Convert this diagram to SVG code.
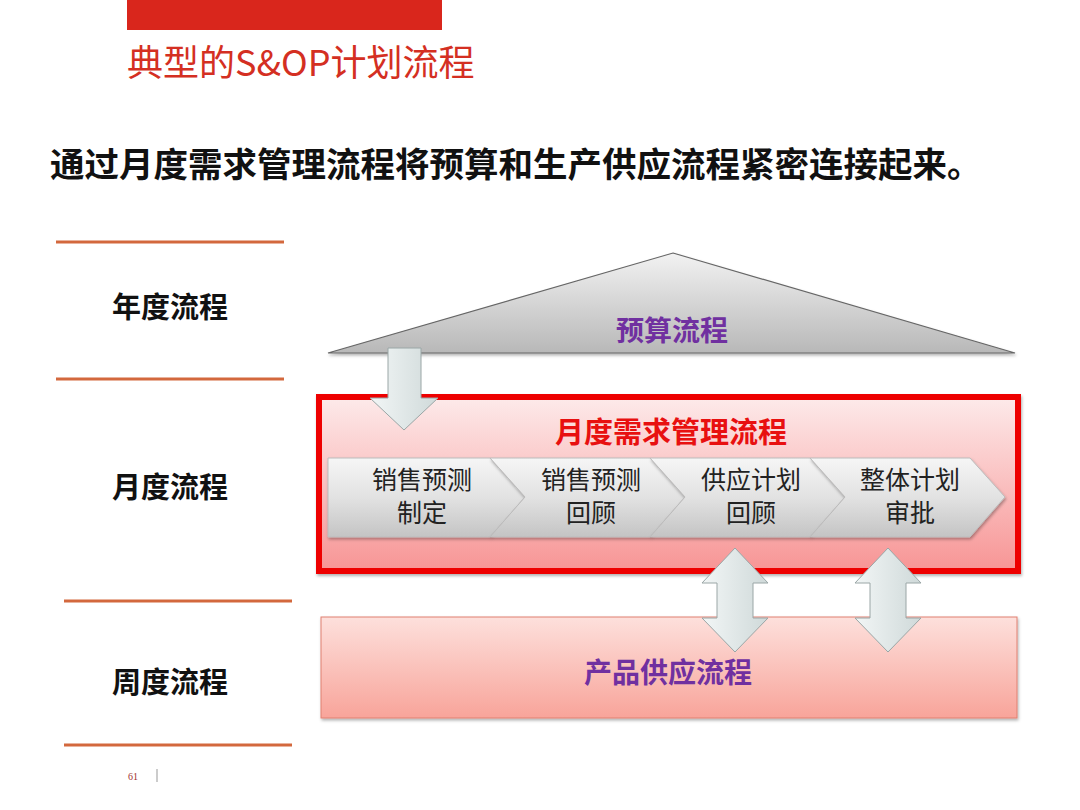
<svg xmlns="http://www.w3.org/2000/svg" width="1080" height="810" viewBox="0 0 1080 810">
<defs>
<linearGradient id="gTri" x1="0" y1="0" x2="0" y2="1"><stop offset="0" stop-color="#f2f2f2"/><stop offset="1" stop-color="#b8b8b8"/></linearGradient>
<linearGradient id="gChev" x1="0" y1="0" x2="0" y2="1"><stop offset="0" stop-color="#f6f6f6"/><stop offset="0.5" stop-color="#e2e2e2"/><stop offset="1" stop-color="#c4c4c4"/></linearGradient>
<linearGradient id="gArr" x1="0" y1="0" x2="1" y2="0"><stop offset="0" stop-color="#f2f6f6"/><stop offset="1" stop-color="#cfd9d9"/></linearGradient>
<linearGradient id="gMonth" x1="0" y1="0" x2="0" y2="1"><stop offset="0" stop-color="#fdeaea"/><stop offset="1" stop-color="#f79595"/></linearGradient>
<linearGradient id="gWeek" x1="0" y1="0" x2="0" y2="1"><stop offset="0" stop-color="#fde0dc"/><stop offset="1" stop-color="#f8a49a"/></linearGradient>
<filter id="sh" x="-5%" y="-10%" width="110%" height="130%"><feDropShadow dx="1" dy="2" stdDeviation="1.5" flood-color="#000" flood-opacity="0.3"/></filter>
</defs>
<style>
.cjk{font-family:"Noto Sans CJK SC","Noto Sans",sans-serif}
.b{font-weight:bold}
.lbl{font-size:29px;fill:#111;text-anchor:middle}
.sep{stroke:#d3683d;stroke-width:3}
.chev{fill:url(#gChev);stroke:#bcbcbc;stroke-width:1}
.ctxt{font-size:25px;fill:#222;text-anchor:middle}
.arr{fill:url(#gArr);stroke:#9aa6a6;stroke-width:1}
.purple{fill:#7030a0;text-anchor:middle;font-size:28px}
</style>
<rect x="127" y="0" width="315" height="30" fill="#d9261c"/>
<text x="127" y="76" class="cjk" font-size="36" fill="#d42f22">典型的S&amp;OP计划流程</text>
<text x="50" y="177" class="cjk b" font-size="34.5" fill="#111">通过月度需求管理流程将预算和生产供应流程紧密连接起来。</text>
<g id="separators">
<line class="sep" x1="56" y1="242" x2="284" y2="242"/>
<line class="sep" x1="56" y1="379" x2="284" y2="379"/>
<line class="sep" x1="64" y1="601" x2="292" y2="601"/>
<line class="sep" x1="64" y1="745" x2="292" y2="745"/>
</g>
<g id="label-year"><text x="170" y="318" class="cjk b lbl">年度流程</text></g>
<g id="label-month"><text x="170" y="498" class="cjk b lbl">月度流程</text></g>
<g id="label-week"><text x="170" y="693" class="cjk b lbl">周度流程</text></g>
<g id="budget">
<polygon points="673,253 1015,353 328,353" fill="url(#gTri)" stroke="#666" stroke-width="1.2" filter="url(#sh)"/>
<text x="672" y="341" class="cjk b purple" font-size="27">预算流程</text>
</g>
<g id="weekly">
<rect x="321" y="617" width="696" height="101" fill="url(#gWeek)" stroke="#e08070" stroke-width="1" filter="url(#sh)"/>
<text x="668" y="683" class="cjk b purple" font-size="29">产品供应流程</text>
</g>
<g id="monthly">
<rect x="319" y="397" width="699" height="174" fill="url(#gMonth)" stroke="#ee0000" stroke-width="6" filter="url(#sh)"/>
<text x="671" y="443" class="cjk b" font-size="29" fill="#e81010" text-anchor="middle">月度需求管理流程</text>
</g>
<g id="step1">
<polygon class="chev" points="328,458 490,458 525,497 490,537 328,537" filter="url(#sh)"/>
<text class="cjk ctxt" x="422" y="489">销售预测</text><text class="cjk ctxt" x="422" y="522">制定</text>
</g>
<g id="step2">
<polygon class="chev" points="490,458 650,458 685,497 650,537 490,537 525,497" filter="url(#sh)"/>
<text class="cjk ctxt" x="591" y="489">销售预测</text><text class="cjk ctxt" x="591" y="522">回顾</text>
</g>
<g id="step3">
<polygon class="chev" points="650,458 810,458 845,497 810,537 650,537 685,497" filter="url(#sh)"/>
<text class="cjk ctxt" x="751" y="489">供应计划</text><text class="cjk ctxt" x="751" y="522">回顾</text>
</g>
<g id="step4">
<polygon class="chev" points="810,458 970,458 1005,497 970,537 810,537 845,497" filter="url(#sh)"/>
<text class="cjk ctxt" x="910" y="489">整体计划</text><text class="cjk ctxt" x="910" y="522">审批</text>
</g>
<g id="connectors">
<path class="arr" d="M388,348 L421,348 L421,398 L438,398 L404,430 L370,398 L388,398 Z"/>
<path class="arr" d="M735,548 L768,583 L753,583 L753,618 L768,618 L735,652 L702,618 L717,618 L717,583 L702,583 Z"/>
<path class="arr" d="M888,548 L921,583 L906,583 L906,618 L921,618 L888,652 L855,618 L870,618 L870,583 L855,583 Z"/>
</g>
<text x="128" y="780" font-family="Liberation Serif, serif" font-size="10" fill="#a03030">61</text>
<line x1="157" y1="769" x2="157" y2="782" stroke="#999" stroke-width="1"/>
</svg>
